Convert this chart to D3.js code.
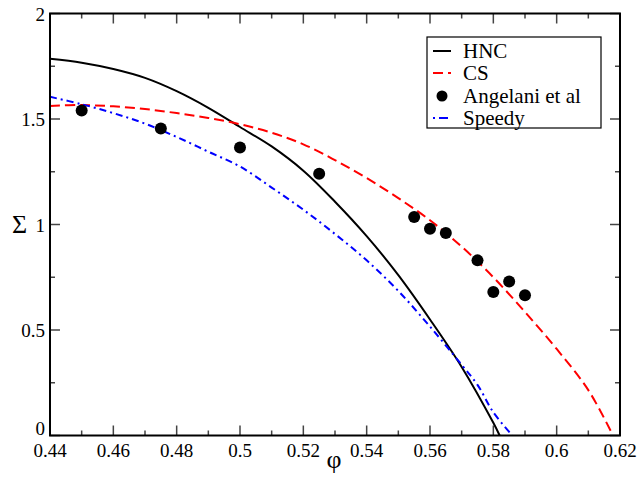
<!DOCTYPE html>
<html><head><meta charset="utf-8">
<script src="https://cdn.jsdelivr.net/npm/d3@7"></script>
<style>body{margin:0;background:#fff}svg{display:block} text{font-family:'Liberation Serif','DejaVu Serif','Times New Roman',serif;}</style>
</head><body>
<svg id="c" width="639" height="482"></svg>
<script>
const hncPhi = [0.44,0.45,0.46,0.47,0.48,0.49,0.50,0.51,0.52,0.53,0.54,0.55,0.56,0.57,0.58,0.582];
const hncSigma = [1.785,1.767,1.737,1.695,1.632,1.553,1.462,1.37,1.255,1.108,0.945,0.76,0.55,0.325,0.06,0.0];
const csPhi = [0.44,0.45,0.46,0.47,0.48,0.49,0.50,0.51,0.52,0.53,0.54,0.55,0.56,0.57,0.58,0.59,0.60,0.61,0.6178];
const csSigma = [1.562,1.566,1.560,1.547,1.528,1.505,1.475,1.435,1.38,1.305,1.22,1.125,1.02,0.895,0.75,0.585,0.41,0.215,0.0];
const spPhi = [0.44,0.45,0.46,0.47,0.48,0.49,0.50,0.51,0.52,0.53,0.54,0.55,0.56,0.57,0.575,0.58,0.586];
const spSigma = [1.605,1.57,1.528,1.478,1.415,1.345,1.275,1.175,1.07,0.955,0.83,0.685,0.516,0.335,0.24,0.11,0.0];
const angPhi = [0.45,0.475,0.5,0.525,0.555,0.56,0.565,0.575,0.58,0.585,0.59];
const angSigma = [1.54,1.455,1.365,1.24,1.035,0.98,0.96,0.83,0.68,0.73,0.665];
const xTicks = [0.44,0.46,0.48,0.5,0.52,0.54,0.56,0.58,0.6,0.62];
const yTicks = [0,0.5,1,1.5,2];
const legendLabels = ["HNC","CS","Angelani et al","Speedy"];

const svg = d3.select("#c");
const L=50, R=620, T=13.5, B=435.5;
const x = d3.scaleLinear().domain([0.44,0.62]).range([L,R]);
const y = d3.scaleLinear().domain([0,2]).range([B,T]);

const xMinor = d3.range(0,19).map(i=>0.44+i*0.01);
const yMinor = d3.range(0,9).map(i=>i*0.25);
const tickCol = "#444";
xMinor.forEach((v,i)=>{
  const len = (i%2===0)?10:5;
  svg.append("line").attr("x1",x(v)).attr("x2",x(v)).attr("y1",B).attr("y2",B-len).attr("stroke",tickCol).attr("stroke-width",1.5);
  svg.append("line").attr("x1",x(v)).attr("x2",x(v)).attr("y1",T).attr("y2",T+len).attr("stroke",tickCol).attr("stroke-width",1.5);
});
yMinor.forEach((v,i)=>{
  const len = (i%2===0)?10:5;
  svg.append("line").attr("y1",y(v)).attr("y2",y(v)).attr("x1",L).attr("x2",L+len).attr("stroke",tickCol).attr("stroke-width",1.5);
  svg.append("line").attr("y1",y(v)).attr("y2",y(v)).attr("x1",R).attr("x2",R-len).attr("stroke",tickCol).attr("stroke-width",1.5);
});

const fmt = d=> (Math.round(d*100)/100).toString();
svg.append("g").selectAll("text").data(xTicks).join("text")
  .attr("x",d=>x(d)).attr("y",B+21).attr("text-anchor","middle")
  .attr("font-size",19).text(fmt);
svg.append("g").selectAll("text").data(yTicks).join("text")
  .attr("x",L-5).attr("y",d=>d===0? y(d)-0.5 : y(d)+7).attr("text-anchor","end")
  .attr("font-size",19).text(fmt);

svg.append("text").attr("x",334).attr("y",468).attr("text-anchor","middle")
  .attr("font-size",26).text("φ");
svg.append("text").attr("x",19.5).attr("y",233).attr("text-anchor","middle")
  .attr("font-size",26).text("Σ");

svg.append("clipPath").attr("id","pc").append("rect")
  .attr("x",L).attr("y",T).attr("width",R-L).attr("height",B-T);
const g = svg.append("g").attr("clip-path","url(#pc)");
const line = d3.line().x(d=>x(d[0])).y(d=>y(d[1])).curve(d3.curveCatmullRom.alpha(0.5));
const hnc = d3.zip(hncPhi,hncSigma), cs = d3.zip(csPhi,csSigma), sp = d3.zip(spPhi,spSigma);

g.append("path").attr("d",line(hnc)).attr("fill","none").attr("stroke","#000").attr("stroke-width",2);
g.append("path").attr("d",line(cs)).attr("fill","none").attr("stroke","#ff0000").attr("stroke-width",2).attr("stroke-dasharray","10,5");
g.append("path").attr("d",line(sp)).attr("fill","none").attr("stroke","#0000ff").attr("stroke-width",2).attr("stroke-dasharray","7,4,2,4");
g.selectAll("circle").data(d3.zip(angPhi,angSigma)).join("circle")
  .attr("cx",d=>x(d[0])).attr("cy",d=>y(d[1])).attr("r",6).attr("fill","#000");

svg.append("rect").attr("x",L).attr("y",T).attr("width",R-L).attr("height",B-T)
  .attr("fill","none").attr("stroke","#000").attr("stroke-width",2);

const lg = svg.append("g");
lg.append("rect").attr("x",427).attr("y",37).attr("width",174).attr("height",91)
  .attr("fill","#fff").attr("stroke","#000").attr("stroke-width",1.2);
const ly = [51,73,96,118];
const styles = [
  {c:"#000",d:null},{c:"#ff0000",d:"10,5"},{c:null},{c:"#0000ff",d:"2,4,9,4"}
];
legendLabels.forEach((t,i)=>{
  const s = styles[i];
  if(s.c){
    lg.append("line").attr("x1",433).attr("x2",451).attr("y1",ly[i]).attr("y2",ly[i])
      .attr("stroke",s.c).attr("stroke-width",2).attr("stroke-dasharray",s.d);
  } else {
    lg.append("circle").attr("cx",442).attr("cy",ly[i]).attr("r",5.5).attr("fill","#000");
  }
  lg.append("text").attr("x",463).attr("y",ly[i]+7).attr("font-size",21).text(t);
});
</script>
</body></html>
